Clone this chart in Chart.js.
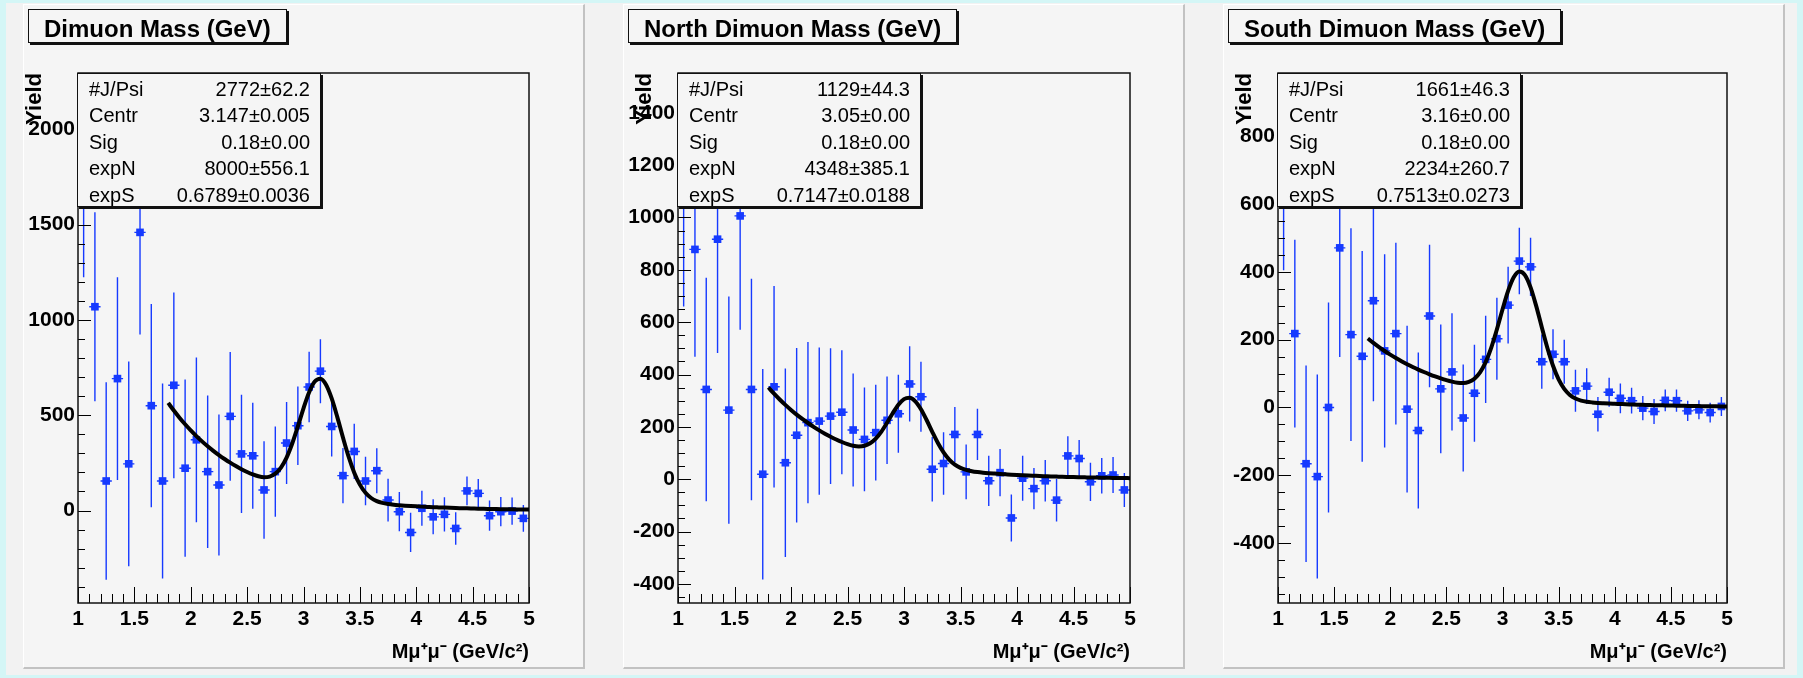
<!DOCTYPE html>
<html>
<head>
<meta charset="utf-8">
<script src="https://cdn.jsdelivr.net/npm/chart.js@4.4.1/dist/chart.umd.min.js"></script>
<style>
  html, body { margin: 0; padding: 0; }
  body {
    width: 1803px; height: 678px; position: relative; overflow: hidden;
    background: #d4f6f6;
    font-family: 'Liberation Sans', Arial, Helvetica, sans-serif;
  }
  #sheet { position: absolute; left: 6px; top: 3px; width: 1791px; height: 672px; background: #f2f2f2; }
  .pad {
    position: absolute; top: 4px; width: 559px; height: 662px; background: #f5f5f5;
    border-left: 1px solid #ffffff; border-top: 1px solid #ffffff;
    border-right: 2px solid #c2c2c2; border-bottom: 2px solid #c2c2c2;
  }
  .panel { position: absolute; top: 0; width: 600px; height: 678px; }
  .panel canvas { position: absolute; left: 0; top: 0; }
  .titlebox {
    position: absolute; left: 28px; top: 9px; height: 32px; padding: 0 15px;
    border: 1px solid #111; box-shadow: 2px 2px 0 #111; background: #f5f5f5;
    font: bold 24px 'Liberation Sans', Arial, sans-serif; line-height: 38px;
    white-space: nowrap; color: #000; overflow: visible;
  }
  .stats {
    position: absolute; left: 77px; top: 73px; width: 242px; height: 132px;
    border: 1px solid #111; box-shadow: 2px 2px 0 #111; background: #f5f5f5;
    font: 20px 'Liberation Sans', Arial, sans-serif; color: #000;
  }
  .stats .row { position: absolute; left: 11px; right: 10px; height: 26.4px; line-height: 26.4px; white-space: nowrap; }
  .stats .k { position: absolute; left: 0; }
  .stats .v { position: absolute; right: 0; }
</style>
</head>
<body>
<div id="sheet"></div>
<script>
// ---- bins (GeV/c^2) ----
const binCenters = [1.05, 1.15, 1.25, 1.35, 1.45, 1.55, 1.65, 1.75, 1.85, 1.95,
                    2.05, 2.15, 2.25, 2.35, 2.45, 2.55, 2.65, 2.75, 2.85, 2.95,
                    3.05, 3.15, 3.25, 3.35, 3.45, 3.55, 3.65, 3.75, 3.85, 3.95,
                    4.05, 4.15, 4.25, 4.35, 4.45, 4.55, 4.65, 4.75, 4.85, 4.95];
const binHalfWidth = 0.05;

// ---- yields per bin and their errors ----
const allYield = [1860, 1069, 155, 692, 245, 1459, 550, 155, 657, 222,
                  371, 204, 134, 494, 297, 287, 108, 204, 354, 445,
                  648, 731, 441, 183, 310, 155, 209, 55, -6, -115,
                  12, -33, -20, -94, 103, 90, -27, -6, -3, -41];
const allErr   = [636, 496, 518, 532, 537, 536, 533, 511, 487, 465,
                  432, 400, 370, 338, 310, 278, 256, 237, 215, 206,
                  185, 168, 157, 145, 145, 127, 118, 112, 103, 103,
                  92, 92, 90, 85, 75, 76, 79, 77, 72, 70];

const northYield = [1120, 878, 343, 917, 264, 1006, 343, 19, 353, 63,
                    168, 216, 222, 241, 256, 188, 152, 178, 225, 250,
                    364, 315, 38, 60, 171, 28, 171, -6, 25, -148,
                    4, -36, -6, -80, 89, 79, -10, 13, 16, -41];
const northErr   = [460, 410, 427, 435, 434, 435, 423, 402, 385, 360,
                    333, 308, 281, 259, 237, 216, 198, 183, 167, 149,
                    144, 134, 123, 119, 105, 105, 98, 96, 90, 90,
                    86, 79, 79, 82, 75, 71, 73, 68, 69, 65];

const southYield = [700, 218, -166, -204, 0, 471, 215, 151, 315, 167,
                    218, -5, -68, 270, 55, 105, -31, 42, 142, 203,
                    302, 432, 415, 135, 157, 135, 49, 63, -20, 45,
                    27, 20, -2, -12, 21, 20, -10, -7, -15, 3];
const southErr   = [295, 277, 290, 301, 310, 322, 314, 311, 297, 285,
                    268, 246, 230, 210, 190, 173, 158, 143, 129, 121,
                    113, 98, 86, 80, 74, 65, 62, 53, 51, 43,
                    44, 38, 36, 37, 32, 33, 30, 28, 29, 28];

// ---- fitted curve (Gaussian + exponential), sampled along the mass axis ----
const fitMass = [1.80, 1.85, 1.90, 1.95, 2.00, 2.05, 2.10, 2.15, 2.20, 2.25,
                 2.30, 2.35, 2.40, 2.45, 2.50, 2.55, 2.60, 2.65, 2.70, 2.75,
                 2.80, 2.85, 2.90, 2.95, 3.00, 3.05, 3.10, 3.15, 3.20, 3.25,
                 3.30, 3.35, 3.40, 3.45, 3.50, 3.55, 3.60, 3.65, 3.70, 3.75,
                 3.80, 3.85, 3.90, 3.95, 4.00, 4.05, 4.10, 4.15, 4.20, 4.25,
                 4.30, 4.35, 4.40, 4.45, 4.50, 4.55, 4.60, 4.65, 4.70, 4.75,
                 4.80, 4.85, 4.90, 4.95, 5.00];
const allFit = [564.5, 524.4, 487.1, 452.6, 420.4, 390.6, 362.8, 337.1, 313.2, 290.9,
                270.3, 251.1, 233.4, 217.0, 202.3, 189.5, 179.8, 175.0, 178.1, 193.3,
                225.2, 277.7, 351.4, 441.3, 536.5, 620.8, 677.0, 691.6, 660.1, 588.3,
                490.1, 382.9, 282.3, 198.7, 136.0, 93.0, 65.7, 49.4, 39.9, 34.2,
                30.5, 27.9, 25.7, 23.8, 22.1, 20.5, 19.1, 17.7, 16.5, 15.3,
                14.2, 13.2, 12.3, 11.4, 10.6, 9.8, 9.1, 8.5, 7.9, 7.3,
                6.8, 6.3, 5.9, 5.5, 5.1];
const northFit = [350.4, 326.7, 304.6, 284.0, 264.8, 246.9, 230.3, 214.7, 200.2, 186.7,
                  174.1, 162.4, 151.7, 142.1, 133.9, 128.0, 125.4, 127.8, 137.2, 155.1,
                  181.8, 215.6, 252.0, 284.5, 306.1, 311.2, 297.6, 267.4, 226.2, 181.0,
                  138.3, 102.4, 75.1, 56.0, 43.5, 35.6, 30.6, 27.3, 24.9, 23.0,
                  21.4, 19.9, 18.6, 17.3, 16.1, 15.0, 14.0, 13.1, 12.2, 11.4,
                  10.6, 9.9, 9.2, 8.6, 8.0, 7.5, 7.0, 6.5, 6.1, 5.7,
                  5.3, 4.9, 4.6, 4.3, 4.0];
const southFit = [203.5, 190.4, 178.2, 166.7, 156.0, 145.9, 136.5, 127.7, 119.5, 111.8,
                  104.6, 97.9, 91.6, 85.8, 80.6, 76.2, 73.1, 72.3, 75.5, 85.0,
                  103.6, 133.9, 176.8, 230.4, 289.2, 344.0, 384.3, 401.3, 390.7, 354.4,
                  299.7, 236.8, 175.5, 123.2, 83.0, 55.0, 37.1, 26.4, 20.3, 16.9,
                  14.9, 13.5, 12.5, 11.6, 10.9, 10.2, 9.5, 8.9, 8.3, 7.8,
                  7.3, 6.8, 6.4, 6.0, 5.6, 5.2, 4.9, 4.6, 4.3, 4.0,
                  3.8, 3.5, 3.3, 3.1, 2.9];

// ---- tick labels ----
const massTicks  = [1, 1.5, 2, 2.5, 3, 3.5, 4, 4.5, 5];
const allTicks   = [0, 500, 1000, 1500, 2000];
const northTicks = [-400, -200, 0, 200, 400, 600, 800, 1000, 1200, 1400];
const southTicks = [-400, -200, 0, 200, 400, 600, 800];

// ---- fit parameter box ----
const statNames  = ['#J/Psi', 'Centr', 'Sig', 'expN', 'expS'];
const allStats   = ['2772\u00b162.2', '3.147\u00b10.005', '0.18\u00b10.00', '8000\u00b1556.1', '0.6789\u00b10.0036'];
const northStats = ['1129\u00b144.3', '3.05\u00b10.00', '0.18\u00b10.00', '4348\u00b1385.1', '0.7147\u00b10.0188'];
const southStats = ['1661\u00b146.3', '3.16\u00b10.00', '0.18\u00b10.00', '2234\u00b1260.7', '0.7513\u00b10.0273'];

const titles = ['Dimuon Mass (GeV)', 'North Dimuon Mass (GeV)', 'South Dimuon Mass (GeV)'];

const BLUE = 'rgb(22, 58, 255)';
const FONT = "'Liberation Sans', Arial, Helvetica, sans-serif";

const panels = [
  { title: titles[0], values: allYield,   errors: allErr,   fit: allFit,   ticks: allTicks,   stats: allStats,
    yMin: -485, yMax: 2295, yMajor: 500, yMinor: 100, right: 529, yTitlePad: 24 },
  { title: titles[1], values: northYield, errors: northErr, fit: northFit, ticks: northTicks, stats: northStats,
    yMin: -473, yMax: 1552, yMajor: 200, yMinor: 50, right: 530, yTitlePad: 34 },
  { title: titles[2], values: southYield, errors: southErr, fit: southFit, ticks: southTicks, stats: southStats,
    yMin: -577, yMax: 987, yMajor: 200, yMinor: 50, right: 527, yTitlePad: 34 }
];

// Error bars, inward tick marks and the frame of one histogram pad
function histoFrame(p) {
  return {
    id: 'histoFrame',
    beforeDatasetsDraw(chart) {
      const { ctx, chartArea: a, scales: { x, y } } = chart;

      ctx.save();
      ctx.beginPath();
      ctx.rect(a.left, a.top, a.width, a.height);
      ctx.clip();
      ctx.strokeStyle = BLUE;
      ctx.lineWidth = 1.4;
      ctx.beginPath();
      binCenters.forEach((c, i) => {
        const px = x.getPixelForValue(c);
        const py = y.getPixelForValue(p.values[i]);
        ctx.moveTo(px, y.getPixelForValue(p.values[i] - p.errors[i]));
        ctx.lineTo(px, y.getPixelForValue(p.values[i] + p.errors[i]));
        ctx.moveTo(x.getPixelForValue(c - binHalfWidth), py);
        ctx.lineTo(x.getPixelForValue(c + binHalfWidth), py);
      });
      ctx.stroke();
      ctx.restore();

      ctx.save();
      ctx.strokeStyle = '#000';
      ctx.lineWidth = 1;
      ctx.beginPath();
      for (let k = 10; k <= 50; k++) {
        const px = Math.round(x.getPixelForValue(k / 10)) + 0.5;
        const len = k % 5 === 0 ? 16 : 9;
        ctx.moveTo(px, a.bottom);
        ctx.lineTo(px, a.bottom - len);
      }
      for (let v = Math.ceil(p.yMin / p.yMinor) * p.yMinor; v <= p.yMax; v += p.yMinor) {
        const py = Math.round(y.getPixelForValue(v)) + 0.5;
        const len = v % p.yMajor === 0 ? 13 : 7;
        ctx.moveTo(a.left, py);
        ctx.lineTo(a.left + len, py);
      }
      ctx.stroke();
      ctx.lineWidth = 1.5;
      ctx.strokeStyle = '#111';
      ctx.strokeRect(a.left, a.top, a.width, a.height);
      ctx.restore();
    }
  };
}

panels.forEach((p, idx) => {
  const pad = document.createElement('div');
  pad.className = 'pad';
  pad.style.left = (23 + 600 * idx) + 'px';
  document.body.appendChild(pad);

  const panel = document.createElement('div');
  panel.className = 'panel';
  panel.style.left = (600 * idx) + 'px';
  document.body.appendChild(panel);

  const canvas = document.createElement('canvas');
  canvas.width = 600;
  canvas.height = 678;
  canvas.style.width = '600px';
  canvas.style.height = '678px';
  panel.appendChild(canvas);

  const tb = document.createElement('div');
  tb.className = 'titlebox';
  tb.textContent = p.title;
  panel.appendChild(tb);

  const st = document.createElement('div');
  st.className = 'stats';
  statNames.forEach((name, i) => {
    const row = document.createElement('div');
    row.className = 'row';
    row.style.top = (2 + 26.4 * i) + 'px';
    const k = document.createElement('span'); k.className = 'k'; k.textContent = name;
    const v = document.createElement('span'); v.className = 'v'; v.textContent = p.stats[i];
    row.appendChild(k); row.appendChild(v);
    st.appendChild(row);
  });
  panel.appendChild(st);

  new Chart(canvas, {
    type: 'scatter',
    data: {
      datasets: [
        {
          type: 'line',
          label: 'fit',
          data: fitMass.map((m, i) => ({ x: m, y: p.fit[i] })),
          borderColor: '#000',
          borderWidth: 4,
          pointRadius: 0,
          fill: false,
          cubicInterpolationMode: 'monotone',
          order: 0
        },
        {
          label: 'yield',
          data: binCenters.map((c, i) => ({ x: c, y: p.values[i] })),
          pointStyle: 'rect',
          pointRadius: 5.4,
          backgroundColor: BLUE,
          borderWidth: 0,
          order: 1
        }
      ]
    },
    options: {
      responsive: false,
      animation: false,
      events: [],
      layout: { padding: { left: 0, top: 73, right: 600 - p.right, bottom: 0 } },
      plugins: { legend: { display: false }, tooltip: { enabled: false } },
      scales: {
        x: {
          type: 'linear', position: 'bottom', min: 1, max: 5,
          afterFit(s) { s.height = 75; },
          afterBuildTicks(s) { s.ticks = massTicks.map(v => ({ value: v })); },
          grid: { display: false, drawTicks: false, tickLength: 0 },
          border: { display: false },
          ticks: {
            color: '#000', padding: 4, maxRotation: 0, autoSkip: false,
            font: { family: FONT, size: 21, weight: 'bold' },
            callback: v => String(v)
          },
          title: {
            display: true, text: 'M\u03bc\u207a\u03bc\u207b (GeV/c\u00b2)', align: 'end', color: '#000',
            font: { family: FONT, size: 20, weight: 'bold', lineHeight: 1 },
            padding: { top: 0, bottom: 16 }
          }
        },
        y: {
          type: 'linear', position: 'left', min: p.yMin, max: p.yMax,
          afterFit(s) { s.width = 78; },
          afterBuildTicks(s) { s.ticks = p.ticks.map(v => ({ value: v })); },
          grid: { display: false, drawTicks: false, tickLength: 0 },
          border: { display: false },
          ticks: {
            color: '#000', padding: 3,
            font: { family: FONT, size: 21, weight: 'bold' },
            callback: v => String(v)
          },
          title: {
            display: true, text: 'Yield', align: 'end', color: '#000',
            font: { family: FONT, size: 22, weight: 'bold', lineHeight: 1 },
            padding: { top: p.yTitlePad, bottom: 0 }
          }
        }
      }
    },
    plugins: [histoFrame(p)]
  });
});
</script>
</body>
</html>
